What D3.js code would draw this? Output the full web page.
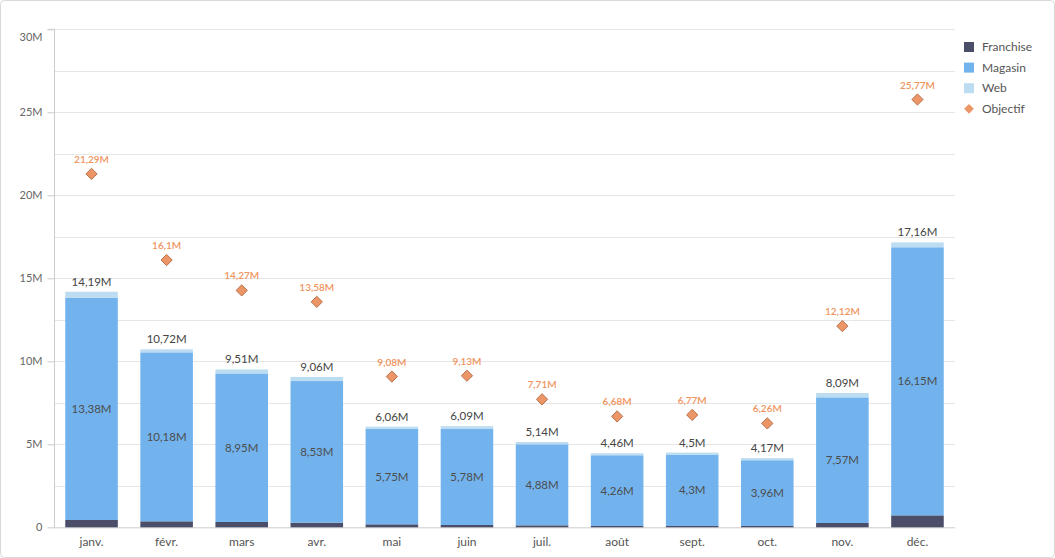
<!DOCTYPE html>
<html><head><meta charset="utf-8">
<script src="https://cdn.jsdelivr.net/npm/d3@7"></script>
<style>
body{margin:0;background:#fff;font-family:"Lato","Open Sans",sans-serif;}
</style></head><body>
<svg id="c" width="1055" height="558"></svg>
<script>
const months = ["janv.","févr.","mars","avr.","mai","juin","juil.","août","sept.","oct.","nov.","déc."];
const franchise = [0.44,0.36,0.32,0.28,0.18,0.14,0.12,0.08,0.08,0.08,0.26,0.72];
const magasin = [13.38,10.18,8.95,8.53,5.75,5.78,4.88,4.26,4.3,3.96,7.57,16.15];
const web = [0.37,0.18,0.24,0.25,0.13,0.17,0.14,0.12,0.12,0.13,0.26,0.29];
const totals = [14.19,10.72,9.51,9.06,6.06,6.09,5.14,4.46,4.5,4.17,8.09,17.16];
const objectif = [21.29,16.1,14.27,13.58,9.08,9.13,7.71,6.68,6.77,6.26,12.12,25.77];
const yTicks = [0,5,10,15,20,25,30];
const seriesNames = ["Franchise","Magasin","Web","Objectif"];
const colors = {Franchise:"#4a4e69",Magasin:"#72b3ee",Web:"#bcdcf1",Objectif:"#ec9566"};

const fmt = v => String(+v.toFixed(2)).replace(".",",") + "M";

const svg = d3.select("#c");
svg.append("rect").attr("x",0.5).attr("y",0.5).attr("width",1054).attr("height",557)
  .attr("rx",4).attr("fill","#fff").attr("stroke","#d9d9d9");

const pLeft=54, pRight=955, pTop=29.3, pBottom=527.3;
const x = d3.scaleBand().domain(months).range([pLeft,pRight]).paddingInner(0.3).paddingOuter(0.15);
const y = d3.scaleLinear().domain([0,30]).range([pBottom,pTop]);

// grid every 2.5M
const grid = d3.range(2.5,30.01,2.5);
svg.append("g").selectAll("line").data(grid).join("line")
  .attr("x1",pLeft).attr("x2",pRight).attr("y1",d=>Math.round(y(d))+0.5).attr("y2",d=>Math.round(y(d))+0.5)
  .attr("stroke","#e6e6e6");

// y axis
const ya = svg.append("g").attr("transform",`translate(${pLeft+0.5},0)`)
  .call(d3.axisLeft(y).tickValues(yTicks).tickSize(7).tickPadding(5).tickFormat(d=>d===0?"0":d+"M"));
ya.select(".domain").attr("stroke","#ccc").attr("d",`M-7,${pTop}H0V${pBottom}`);
ya.selectAll(".tick line").attr("stroke","#ccc");
ya.selectAll(".tick text").attr("fill","#666").style("font-family","Lato, sans-serif").style("font-size","11px");
ya.selectAll(".tick").filter(d=>d===30).select("text").attr("dy","1.0em");

// x axis
const xa = svg.append("g").attr("transform",`translate(0,${pBottom})`)
  .call(d3.axisBottom(x).tickSize(0).tickPadding(10));
xa.select(".domain").attr("stroke","#ccc").attr("d",`M${pLeft},0.5H${pRight}`);
xa.selectAll(".tick text").attr("fill","#555").style("font-family","Lato, sans-serif").style("font-size","12px");

// stacked bars
const rows = months.map((m,i)=>({month:m,Franchise:franchise[i],Magasin:magasin[i],Web:web[i]}));
const stack = d3.stack().keys(["Franchise","Magasin","Web"])(rows);
svg.append("g").selectAll("g").data(stack).join("g").attr("fill",d=>colors[d.key])
  .selectAll("rect").data(d=>d).join("rect")
  .attr("x",d=>x(d.data.month)).attr("width",x.bandwidth())
  .attr("y",d=>y(d[1])).attr("height",d=>y(d[0])-y(d[1]));

// magasin labels
const magStack = stack[1];
svg.append("g").selectAll("text").data(magStack).join("text")
  .attr("x",d=>x(d.data.month)+x.bandwidth()/2).attr("y",d=>(y(d[0])+y(d[1]))/2)
  .attr("dy","0.35em").attr("text-anchor","middle").attr("fill","#4d4d4d")
  .style("font-size","11.5px").text(d=>fmt(d.data.Magasin));

// total labels
svg.append("g").selectAll("text").data(months).join("text")
  .attr("x",m=>x(m)+x.bandwidth()/2).attr("y",(m,i)=>y(franchise[i]+magasin[i]+web[i])-6)
  .attr("text-anchor","middle").attr("fill","#444").style("font-size","11.5px")
  .text((m,i)=>fmt(totals[i]));

// objectif diamonds
const sym = d3.symbol().type(d3.symbolDiamond2).size(80);
svg.append("g").selectAll("path").data(months).join("path")
  .attr("transform",(m,i)=>`translate(${x(m)+x.bandwidth()/2},${y(objectif[i])})`)
  .attr("d",sym).attr("fill",colors.Objectif).attr("stroke","#b8714d").attr("stroke-width",1);
svg.append("g").selectAll("text").data(months).join("text")
  .attr("x",m=>x(m)+x.bandwidth()/2).attr("y",(m,i)=>y(objectif[i])-11)
  .attr("text-anchor","middle").attr("fill","#f0945e").style("font-size","10px").style("font-weight","600")
  .text((m,i)=>fmt(objectif[i]));

// legend
const lg = svg.append("g").attr("transform","translate(964,47)");
const li = lg.selectAll("g").data(seriesNames).join("g").attr("transform",(d,i)=>`translate(0,${i*20.6})`);
li.each(function(d){
  const g=d3.select(this);
  if(d==="Objectif"){
    g.append("path").attr("transform","translate(5,0)").attr("d",d3.symbol().type(d3.symbolDiamond2).size(60)).attr("fill",colors.Objectif);
  } else {
    g.append("rect").attr("x",0).attr("y",-5).attr("width",10).attr("height",10).attr("fill",colors[d]);
  }
});
li.append("text").attr("x",18).attr("dy","0.35em").attr("fill","#555").style("font-size","12px").text(d=>d);
</script></body></html>
